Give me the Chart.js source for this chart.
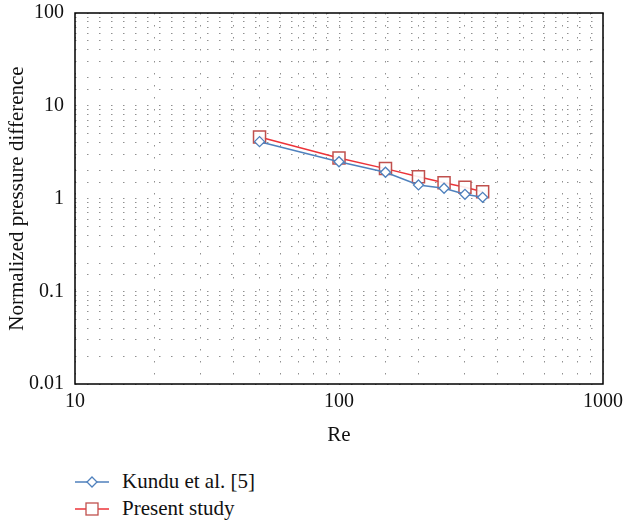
<!DOCTYPE html>
<html>
<head>
<meta charset="utf-8">
<script src="https://cdn.jsdelivr.net/npm/chart.js@4/dist/chart.umd.min.js"></script>
<style>
  body { margin: 0; background: #fff; }
  #wrap { position: relative; width: 625px; height: 522px; }
  #box { position: absolute; left: 0; top: 0; width: 625px; height: 452px; }
  #legend { position: absolute; left: 75px; top: 468px; font-family: "Liberation Serif", "DejaVu Serif", serif; font-size: 21px; color: #111; }
  #legend .item { display: flex; align-items: center; height: 27px; }
  #legend svg { margin-right: 13px; }
</style>
</head>
<body>
<div id="wrap">
  <div id="box"><canvas id="myChart"></canvas></div>
  <div id="legend"></div>
</div>
<script>
// dữ liệu
const reValues = [50, 100, 150, 200, 250, 300, 350];
const kunduValues = [4.1, 2.49, 1.92, 1.40, 1.29, 1.11, 1.03];
const presentValues = [4.6, 2.73, 2.1, 1.72, 1.48, 1.32, 1.18];
const seriesNames = ["Kundu et al. [5]", "Present study"];
const xTickLabels = ["10", "100", "1000"];
const yTickLabels = ["0.01", "0.1", "1", "10", "100"];

const serif = '"Liberation Serif", "DejaVu Serif", serif';

function decadeLabel(v, first, labels) {
  const e = Math.log10(v);
  const r = Math.round(e);
  if (Math.abs(e - r) > 1e-6) return "";
  return labels[r - first] !== undefined ? labels[r - first] : "";
}

// khung đen quanh vùng vẽ
const frame = {
  id: "frame",
  afterDraw(chart) {
    const a = chart.chartArea;
    const c = chart.ctx;
    c.save();
    c.strokeStyle = "#000";
    c.lineWidth = 1.5;
    c.strokeRect(a.left, a.top, a.right - a.left, a.bottom - a.top);
    c.restore();
  }
};

document.addEventListener("DOMContentLoaded", function () {
  const ctx = document.getElementById("myChart").getContext("2d");
  const chart = new Chart(ctx, {
    type: "line",
    data: {
      datasets: [
        {
          label: seriesNames[0],
          data: reValues.map((x, i) => ({ x: x, y: kunduValues[i] })),
          borderColor: "#4f81bd",
          backgroundColor: "#fff",
          borderWidth: 1.5,
          pointStyle: "rectRot",
          pointRadius: 5,
          pointBorderWidth: 1.3,
          pointBorderColor: "#4f81bd",
          pointBackgroundColor: "#fff",
          tension: 0
        },
        {
          label: seriesNames[1],
          data: reValues.map((x, i) => ({ x: x, y: presentValues[i] })),
          borderColor: "#ec3339",
          backgroundColor: "#fff",
          borderWidth: 1.5,
          pointStyle: "rect",
          pointRadius: 8.5,
          pointBorderWidth: 1.5,
          pointBorderColor: "#c0504d",
          pointBackgroundColor: "rgba(255,255,255,0.9)",
          tension: 0
        }
      ]
    },
    options: {
      responsive: true,
      maintainAspectRatio: false,
      animation: false,
      layout: { padding: { left: 0, right: 22, top: 13, bottom: 0 } },
      plugins: {
        legend: { display: false },
        tooltip: { enabled: false }
      },
      scales: {
        x: {
          type: "logarithmic",
          min: 10,
          max: 1000,
          afterFit: (s) => { s.height = 68; s.paddingLeft = 0; s.paddingRight = 0; },
          grid: { color: "#909090", lineWidth: 1, drawTicks: false },
          border: { display: false, dash: [1.5, 10.5] },
          ticks: {
            autoSkip: false,
            maxRotation: 0,
            padding: 6,
            color: "#111",
            font: { family: serif, size: 20 },
            callback: (v) => decadeLabel(v, 1, xTickLabels)
          },
          title: {
            display: true,
            text: "Re",
            color: "#111",
            font: { family: serif, size: 21 },
            padding: { top: 0, bottom: 4 }
          }
        },
        y: {
          type: "logarithmic",
          min: 0.01,
          max: 100,
          afterFit: (s) => { s.width = 75; s.paddingTop = 0; s.paddingBottom = 0; },
          grid: { color: "#909090", lineWidth: 1, drawTicks: false },
          border: { display: false, dash: [1.5, 10.5] },
          ticks: {
            autoSkip: false,
            padding: 11,
            color: "#111",
            font: { family: serif, size: 20 },
            callback: (v) => decadeLabel(v, -2, yTickLabels)
          },
          title: {
            display: true,
            text: "Normalized pressure difference",
            color: "#111",
            font: { family: serif, size: 21 },
            padding: { top: 5, bottom: 0 }
          }
        }
      }
    },
    plugins: [frame]
  });

  // chú thích xếp dọc bên dưới biểu đồ
  const leg = document.getElementById("legend");
  chart.data.datasets.forEach((ds) => {
    const item = document.createElement("div");
    item.className = "item";
    const mark = ds.pointStyle === "rect"
      ? '<rect x="11" y="3" width="12" height="12" fill="#fff" stroke="' + ds.pointBorderColor + '" stroke-width="1.3"/>'
      : '<polygon points="17,4 22,9 17,14 12,9" fill="#fff" stroke="' + ds.pointBorderColor + '" stroke-width="1.3"/>';
    item.innerHTML = '<svg width="34" height="18"><line x1="0" y1="9" x2="34" y2="9" stroke="' + ds.borderColor + '" stroke-width="1.5"/>' + mark + '</svg><span>' + ds.label + '</span>';
    leg.appendChild(item);
  });
});
</script>
</body>
</html>
